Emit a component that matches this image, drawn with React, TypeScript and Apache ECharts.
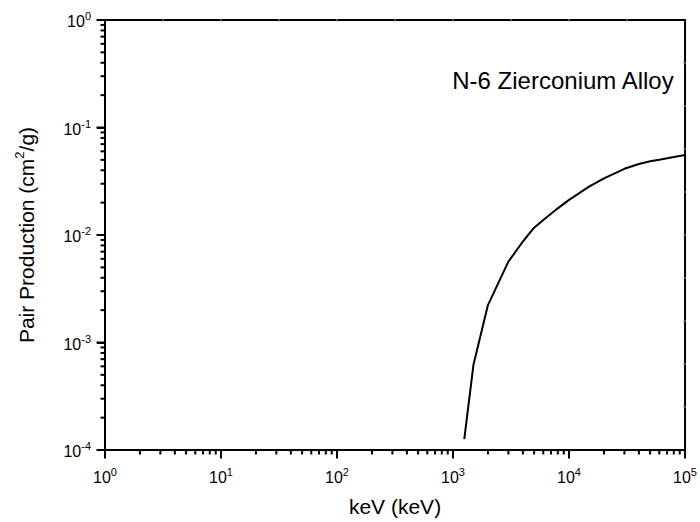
import React, { useEffect, useRef } from "react";
import * as echarts from "echarts";

const energyKeV = [1250, 1500, 2000, 3000, 4000, 5000, 6000, 8000, 10000, 15000, 20000, 30000, 40000, 50000, 60000, 80000, 100000];
const pairProduction = [1.26e-4, 6.2e-4, 2.23e-3, 5.65e-3, 8.7e-3, 1.17e-2, 1.38e-2, 1.77e-2, 2.12e-2, 2.83e-2, 3.36e-2, 4.13e-2, 4.57e-2, 4.85e-2, 5.02e-2, 5.31e-2, 5.55e-2];
const xDecades = [1, 10, 100, 1000, 10000, 100000];
const yDecades = [1e-4, 1e-3, 1e-2, 1e-1, 1];
const chartTitle = "N-6 Zierconium Alloy";
const xName = "keV (keV)";
const yName = "{a|Pair Production (cm}{s|2}{a|/g)}";

const FONT = "Liberation Sans, Arial, sans-serif";

function minorTicksFor(majors: number[]): number[] {
  const out: number[] = [];
  for (let i = 0; i < majors.length - 1; i++) {
    for (let k = 2; k <= 9; k++) out.push(majors[i] * k);
  }
  return out;
}

function supLabel(v: number) {
  const e = Math.round(Math.log10(v));
  return `{b|10}{s|${e}}`;
}

const labelRich = {
  b: { fontSize: 16, fontFamily: FONT, color: "#000", lineHeight: 19, verticalAlign: "bottom" },
  s: { fontSize: 11, fontFamily: FONT, color: "#000", lineHeight: 11, verticalAlign: "top" },
};

export default function App() {
  const ref = useRef<HTMLDivElement>(null);
  useEffect(() => {
    if (!ref.current) return;
    const chart = echarts.init(ref.current, null, { renderer: "svg" });
    const xMin = xDecades[0];
    const xMax = xDecades[xDecades.length - 1];
    const yMin = yDecades[0];
    const yMax = yDecades[yDecades.length - 1];
    chart.setOption({
      animation: false,
      grid: {
        left: 105,
        right: 12,
        top: 20,
        bottom: 72,
        containLabel: false,
        show: true,
        borderColor: "#000",
        borderWidth: 2,
      },
      xAxis: {
        type: "log",
        logBase: 10,
        min: xMin,
        max: xMax,
        position: "bottom",
        name: xName,
        nameLocation: "middle",
        nameGap: 46,
        nameTextStyle: { fontSize: 21, fontFamily: FONT, color: "#000" },
        axisLine: { show: true, onZero: false, lineStyle: { color: "#000", width: 2 } },
        axisTick: { show: true, inside: false, length: 8, lineStyle: { color: "#000", width: 2 } },
        axisLabel: { show: true, margin: 16, formatter: supLabel, rich: labelRich },
        splitLine: { show: false },
        minorTick: { show: false },
      },
      yAxis: {
        type: "log",
        logBase: 10,
        min: yMin,
        max: yMax,
        position: "left",
        axisLine: { show: true, onZero: false, lineStyle: { color: "#000", width: 2 } },
        axisTick: { show: true, inside: false, length: 8, lineStyle: { color: "#000", width: 2 } },
        axisLabel: { show: true, margin: 14, formatter: supLabel, rich: labelRich },
        splitLine: { show: false },
        minorTick: { show: false },
      },
      series: [
        {
          type: "line",
          data: energyKeV.map((x, i) => [x, pairProduction[i]]),
          showSymbol: false,
          symbol: "none",
          smooth: false,
          lineStyle: { color: "#000", width: 2 },
        },
      ],
    });

    const toPx = (x: number, y: number) => chart.convertToPixel({ seriesIndex: 0 }, [x, y]) as number[];
    const els: any[] = [];
    const rect = (x: number, y: number, w: number, h: number, fill: string) =>
      els.push({ type: "rect", shape: { x, y, width: w, height: h }, style: { fill }, z: 10, silent: true });
    xDecades.forEach((v) => {
      const p = toPx(v, yMin);
      rect(p[0] - 1, p[1], 2, 8.5, "#000");
    });
    minorTicksFor(xDecades).forEach((v) => {
      const p = toPx(v, yMin);
      rect(p[0] - 1, p[1], 2, 4.5, "#000");
    });
    yDecades.forEach((v) => {
      const p = toPx(xMin, v);
      rect(p[0] - 8.5, p[1] - 1, 8.5, 2, "#000");
    });
    minorTicksFor(yDecades).forEach((v) => {
      const p = toPx(xMin, v);
      rect(p[0] - 4.5, p[1] - 1, 4.5, 2, "#000");
    });
    const lxMin = Math.log10(xMin), lxMax = Math.log10(xMax);
    const lyMin = Math.log10(yMin), lyMax = Math.log10(yMax);
    for (let k = 1; k < 10; k++) {
      const p = toPx(Math.pow(10, lxMin + ((lxMax - lxMin) * k) / 10), yMax);
      rect(p[0] - 0.5, p[1] - 1, 1, 3, "#999");
      const q = toPx(xMax, Math.pow(10, lyMin + ((lyMax - lyMin) * k) / 10));
      rect(q[0] - 2, q[1] - 0.5, 3, 1, "#999");
    }
    const mid = toPx(xMin, Math.pow(10, (lyMin + lyMax) / 2));
    els.push({
      type: "text",
      x: 25,
      y: mid[1],
      rotation: Math.PI / 2,
      style: {
        text: yName,
        align: "center",
        verticalAlign: "middle",
        rich: {
          a: { fontSize: 21, fontFamily: FONT, fill: "#000", lineHeight: 24, verticalAlign: "bottom" },
          s: { fontSize: 13, fontFamily: FONT, fill: "#000", lineHeight: 13, verticalAlign: "top" },
        },
      },
    });
    els.push({
      type: "text",
      right: 25,
      top: 68,
      style: { text: chartTitle, font: `24px ${FONT}`, fill: "#000" },
    });
    chart.setOption({ graphic: els });

    return () => chart.dispose();
  }, []);
  return <div ref={ref} style={{ width: 700, height: 522, position: "absolute", left: 0, top: 0, background: "#fff" }} />;
}
